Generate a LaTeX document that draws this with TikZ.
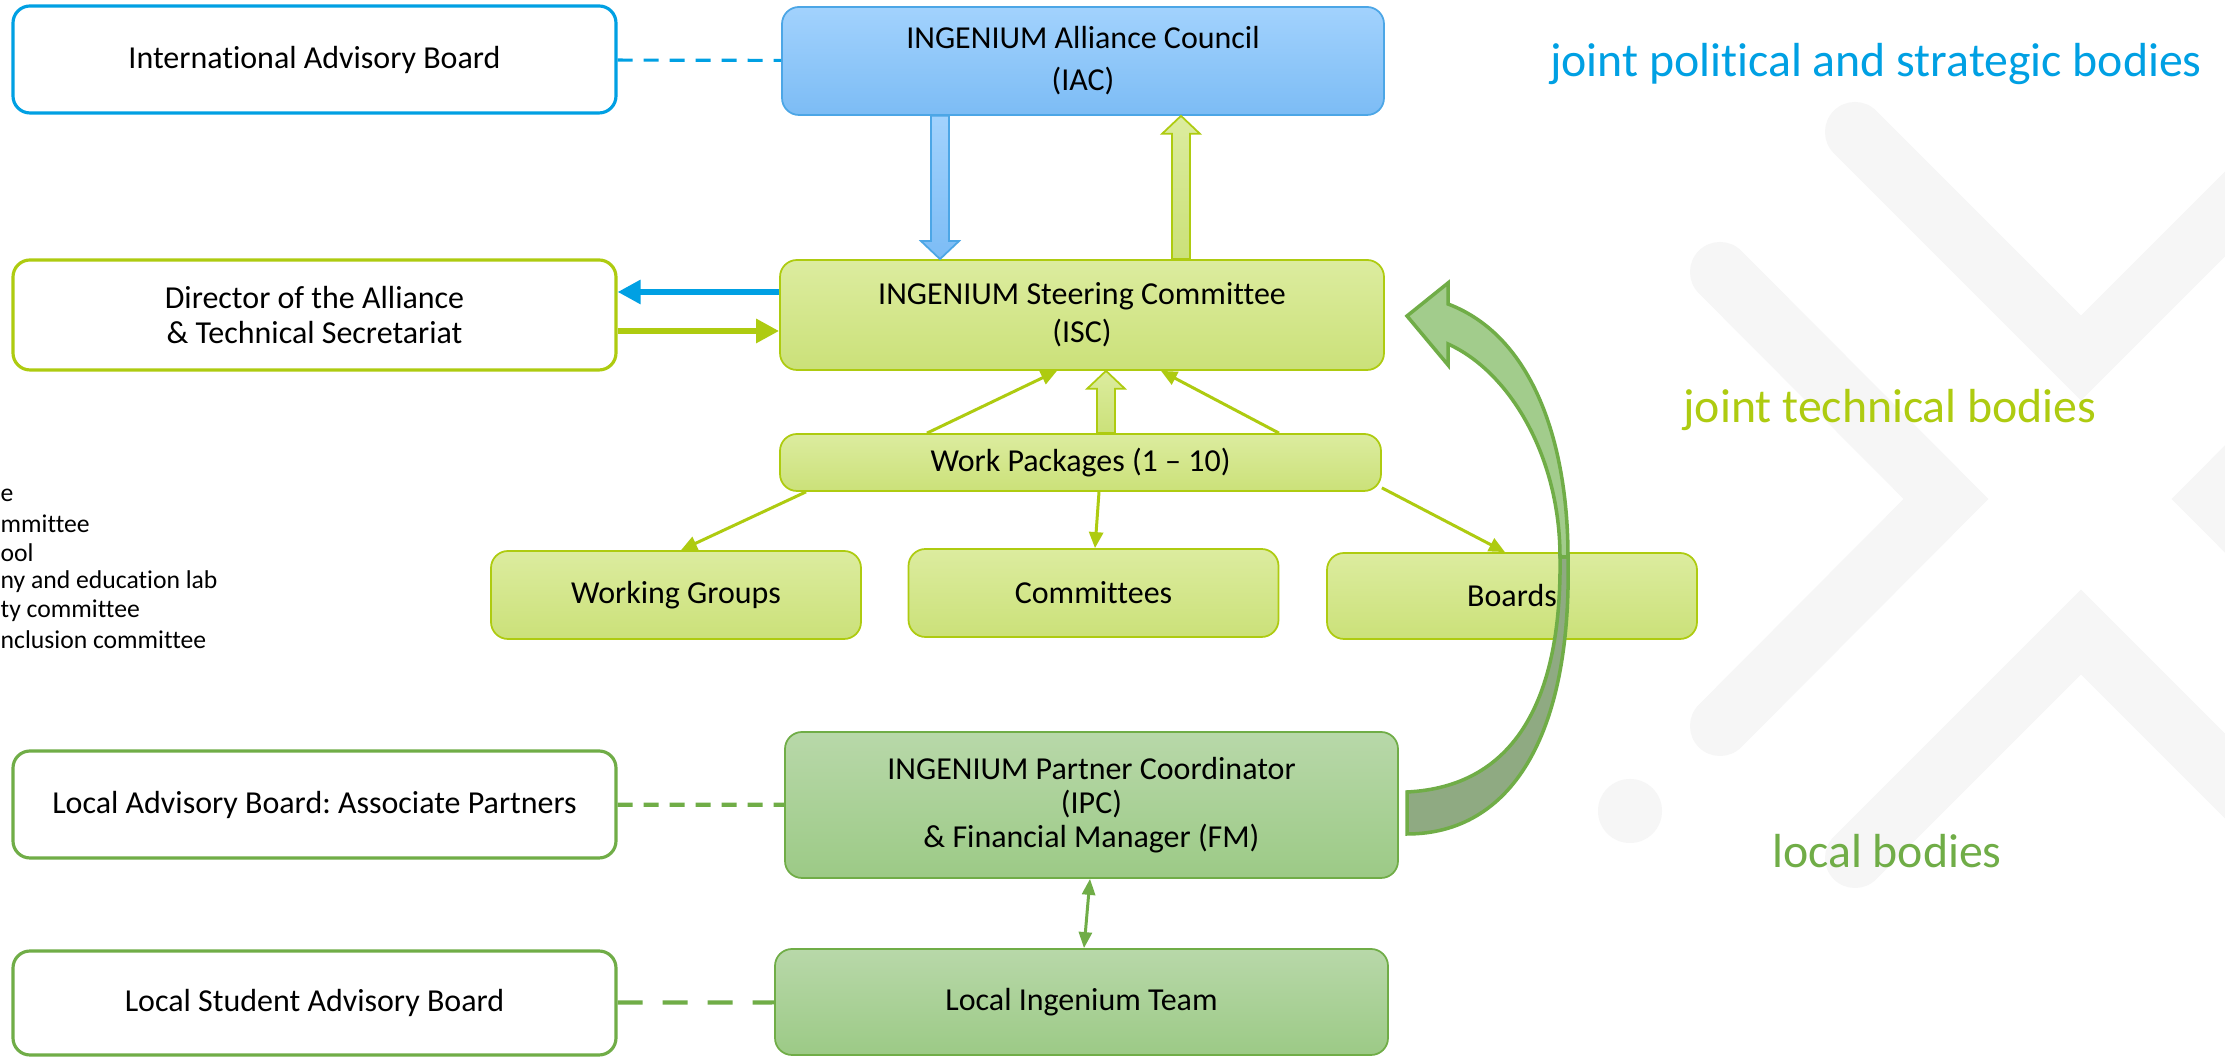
\documentclass[tikz,border=0pt]{standalone}
\usepackage{fontspec}
\setmainfont{Carlito}[Ligatures={TeX,NoCommon}]
\usepackage{tikz}
\usetikzlibrary{arrows.meta,calc}
\frenchspacing
\definecolor{jointc}{HTML}{00A0E3}
\definecolor{councilline}{HTML}{4CA6E6}
\definecolor{counciltop}{HTML}{A2D2FD}
\definecolor{councilbot}{HTML}{7CBCF5}
\definecolor{techc}{HTML}{AECB10}
\definecolor{techtop}{HTML}{DCEC9F}
\definecolor{techbot}{HTML}{CBE179}
\definecolor{localc}{HTML}{70AD47}
\definecolor{localtop}{HTML}{B8D8A9}
\definecolor{localbot}{HTML}{9CCA86}
\definecolor{loopfront}{HTML}{A2CC8C}
\definecolor{loopback}{HTML}{8FAA82}
\definecolor{logoc}{HTML}{F6F6F6}
\newcommand{\boxfont}{\fontsize{9.1}{9.7}\selectfont}
\newcommand{\tierfont}{\fontsize{13.6}{16}\selectfont}
\newcommand{\listfont}{\fontsize{7.3}{8}\selectfont}
\tikzset{
  body/.style={rounded corners=0.17cm, align=center, inner sep=2pt, font=\boxfont},
  sidebox/.style={body, draw=#1, line width=0.9pt, fill=white, minimum width=6.03cm, minimum height=1.07cm},
  councilbox/.style={body, draw=councilline, line width=0.5pt, top color=counciltop, bottom color=councilbot},
  techbox/.style={body, draw=techc, line width=0.5pt, top color=techtop, bottom color=techbot, minimum width=3.70cm},
  localbox/.style={body, draw=localc, line width=0.5pt, top color=localtop, bottom color=localbot, minimum width=6.13cm},
  tier/.style={font=\tierfont, text=#1, inner sep=0pt},
  listfrag/.style={font=\listfont, anchor=west, inner sep=0pt},
  advlink/.style={draw=#1, line width=0.9pt, dash pattern=on 0.15cm off 0.11cm},
  studlink/.style={draw=localc, line width=1.2pt, dash pattern=on 0.25cm off 0.2cm},
  report/.style={-{Triangle[length=0.23cm,width=0.23cm]}, line width=1.7pt, draw=#1},
  feed/.style={-{Triangle[length=0.16cm,width=0.14cm]}, line width=0.85pt, draw=techc},
  mutual/.style={{Triangle[length=0.16cm,width=0.13cm]}-{Triangle[length=0.16cm,width=0.13cm]}, line width=0.85pt, draw=localc},
  fatblue/.style={draw=councilline, line width=0.5pt, top color=counciltop, bottom color=councilbot},
  fatgreen/.style={draw=techc, line width=0.5pt, top color=techtop, bottom color=techbot},
  logo/.style={draw=logoc, line width=0.6cm, line cap=round, line join=miter},
  loopband/.style={draw=localc, line width=1pt, fill=#1},
}
\def\cL{3.145}
\def\cM{10.83}
% hollow block arrow, tail -> tip, vertical
\newcommand{\fatarrow}[3]{%
  \draw[#1] let \p1=(#2), \p2=(#3), \n1={0.18cm*(\y2-\y1)/abs(\y2-\y1)} in
    (\x1-0.09cm,\y1) -- (\x1-0.09cm,\y2-\n1) -- (\x1-0.19cm,\y2-\n1) -- (\x1,\y2)
    -- (\x1+0.19cm,\y2-\n1) -- (\x1+0.09cm,\y2-\n1) -- (\x1+0.09cm,\y1) -- cycle;}

\begin{document}
\begin{tikzpicture}
  \path[use as bounding box, fill=white] (0,0) rectangle (22.25,10.57);
  % logo in the background
  \draw[logo] (17.20,7.85) -- (19.46,5.58) -- (17.20,3.31);
  \draw[logo] (18.55,9.25) -- (20.81,6.99) -- (23.07,9.25);
  \draw[logo] (24.40,7.85) -- (22.14,5.58) -- (24.40,3.31);
  \draw[logo] (18.55,1.99) -- (20.81,4.25) -- (23.07,1.99);
  \fill[logoc] (16.30,2.46) circle (0.32);

  \foreach \t [count=\i] in {e, mmittee, ool, ny and education lab, ty committee, nclusion committee}
    \node[listfrag] (frag\i) at (0,5.91-\i*0.29) {\t};

  \node[sidebox=jointc] (iab) at (\cL,9.975) {International Advisory Board};
  \node[councilbox, minimum width=6.02cm, minimum height=1.08cm] (iac) at (\cM,9.96) {INGENIUM Alliance Council\\[2.3pt](IAC)};
  \node[sidebox=techc, minimum height=1.10cm] (dir) at (\cL,7.42) {Director of the Alliance\\\& Technical Secretariat};
  \node[techbox, minimum width=6.04cm, minimum height=1.10cm] (isc) at (10.82,7.42) {INGENIUM Steering Committee\\[1.2pt](ISC)};
  \node[techbox, minimum width=6.01cm, minimum height=0.57cm] (wp) at (10.805,5.945) {Work Packages (1 \textendash{} 10)};
  \node[techbox, minimum height=0.88cm] (wg) at (6.76,4.62) {Working Groups};
  \node[techbox, minimum height=0.88cm] (com) at (10.935,4.64) {Committees};
  \node[techbox, minimum height=0.86cm] (boards) at (15.12,4.61) {Boards};
  \node[localbox, minimum height=1.46cm] (ipc) at (10.915,2.52) {INGENIUM Partner Coordinator\\(IPC)\\\& Financial Manager (FM)};
  \node[localbox, minimum height=1.06cm] (lit) at (10.815,0.55) {Local Ingenium Team};
  \node[sidebox=localc] (lab) at (\cL,2.525) {Local Advisory Board: Associate Partners};
  \node[sidebox=localc, minimum height=1.04cm] (lsab) at (\cL,0.54) {Local Student Advisory Board};

  \node[tier=jointc] (tpol) at (18.76,9.93) {joint political and strategic bodies};
  \node[tier=techc] (ttech) at (18.90,6.47) {joint technical bodies};
  \node[tier=localc] (tloc) at (18.87,2.06) {local bodies};

  \draw[advlink=jointc] (iab) -- (iac);
  \draw[advlink=localc, line width=1.2pt] (lab) -- (ipc);
  \draw[studlink] (lsab) -- (lit);
  \draw[report=jointc] ([yshift=0.23cm]isc.west) -- ([yshift=0.23cm]dir.east);
  \draw[report=techc] ([yshift=-0.16cm]dir.east) -- ([yshift=-0.16cm]isc.west);

  \fatarrow{fatblue}{iac.south -| 9.40,0}{isc.north -| 9.40,0}
  \fatarrow{fatgreen}{isc.north -| 11.81,0}{iac.south -| 11.81,0}
  \fatarrow{fatgreen}{wp.north -| 11.06,0}{isc.south -| 11.06,0}

  \draw[feed] (wp.north -| 9.27,0) -- (isc.south -| 10.57,0);
  \draw[feed] (wp.north -| 12.79,0) -- (isc.south -| 11.61,0);
  \draw[feed] (wp.south -| 8.06,0) -- (wg.north -| 6.81,0);
  \draw[feed] (wp.south -| 10.99,0) -- (com.north -| 10.95,0);
  \draw[feed] ([yshift=0.04cm]wp.south east) -- (boards.north -| 15.05,0);
  \draw[mutual] (ipc.south -| 10.90,0) -- (lit.north -| 10.84,0);

  % curved arrow from the IPC back up to the ISC
  \draw[loopband=loopback] (14.07,2.65) .. controls (15.1,2.7) and (15.62,3.5) .. (15.60,5.0)
    -- (15.68,5.0) .. controls (15.72,3.2) and (15.1,2.23) .. (14.07,2.23) -- cycle;
  \draw[loopband=loopfront] (14.07,7.41) -- (14.48,7.74) -- (14.48,7.53)
    .. controls (15.35,7.2) and (15.68,6.1) .. (15.68,5.0) -- (15.60,5.0)
    .. controls (15.60,6.0) and (15.1,6.85) .. (14.48,7.13) -- (14.48,6.92) -- cycle;
\end{tikzpicture}
\end{document}
